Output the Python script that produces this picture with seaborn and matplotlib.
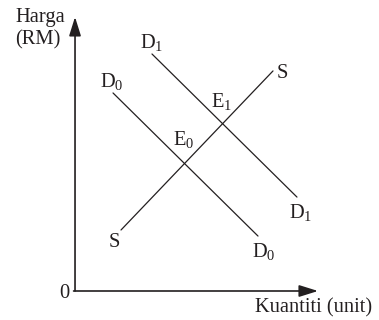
import numpy as np
import pandas as pd
import seaborn as sns
import matplotlib
matplotlib.use("Agg")
import matplotlib.pyplot as plt

# curve end points (kuantiti, harga)
curves = ["D0", "D1", "S"]
q_start = [1.57, 3.18, 1.90]
p_start = [8.18, 9.79, 2.52]
q_end = [7.56, 9.17, 8.18]
p_end = [2.27, 3.88, 9.09]

q_max = 10.04
p_max = 11.32

# label text and position (left edge, baseline)
labels = ["D$_\\mathrm{1}$", "D$_\\mathrm{0}$", "S", "S", "E$_\\mathrm{1}$", "E$_\\mathrm{0}$",
          "D$_\\mathrm{1}$", "D$_\\mathrm{0}$"]
label_q = [2.69, 1.03, 8.31, 1.40, 5.62, 4.05, 8.84, 7.31]
label_p = [10.04, 8.43, 8.80, 1.82, 7.60, 6.03, 3.02, 1.40]

ink = "#231f20"

sns.set_theme(style="white")
plt.rcParams["font.family"] = ["Liberation Serif", "DejaVu Serif"]
plt.rcParams["mathtext.fontset"] = "custom"
plt.rcParams["mathtext.rm"] = "Liberation Serif"
plt.rcParams["mathtext.it"] = "Liberation Serif:italic"

rows = []
for c, q0, p0, q1, p1 in zip(curves, q_start, p_start, q_end, p_end):
    rows.append({"curve": c, "Q": q0, "P": p0})
    rows.append({"curve": c, "Q": q1, "P": p1})
df = pd.DataFrame(rows)

fig = plt.figure(figsize=(3.79, 3.20), dpi=100)
ax = fig.add_axes([0, 0, 1, 1])
sns.lineplot(data=df, x="Q", y="P", units="curve", estimator=None, sort=False,
             color=ink, lw=0.9, ax=ax)

arrow = dict(arrowstyle="-|>,head_length=1.15,head_width=0.36", mutation_scale=10,
             lw=1.2, color=ink, shrinkA=0, shrinkB=0)
ax.annotate("", xy=(0, p_max), xytext=(0, 0), arrowprops=arrow)
ax.annotate("", xy=(q_max, 0), xytext=(-0.06, 0), arrowprops=arrow)

fs = 14.8
for t, x, y in zip(labels, label_q, label_p):
    ax.text(x, y, t, fontsize=fs, color=ink, ha="left", va="baseline")

ax.text(-0.21, -0.29, "0", fontsize=fs, color=ink, ha="right", va="baseline")
ax.text(7.44, -0.87, "Kuantiti (unit)", fontsize=fs, color=ink, ha="left", va="baseline")
ax.text(-2.48, 11.12, "Harga", fontsize=fs, color=ink, ha="left", va="baseline")
ax.text(-2.48, 10.17, "(RM)", fontsize=fs, color=ink, ha="left", va="baseline")

ax.set_xlim(-3.10, 12.56)
ax.set_ylim(-1.198, 12.02)
ax.axis("off")
fig.savefig("out.png", dpi=100)
